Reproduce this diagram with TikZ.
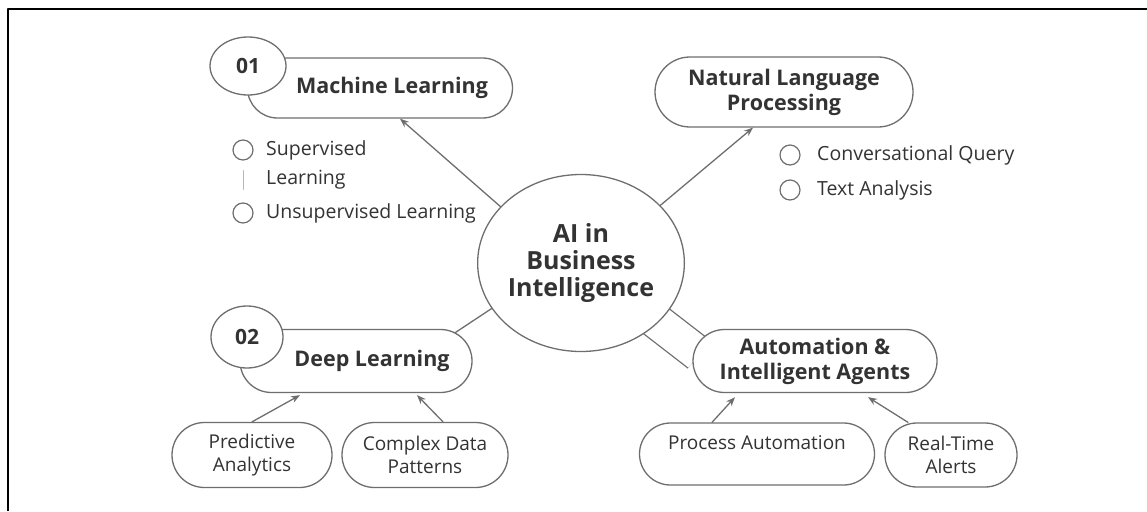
\documentclass[tikz,border=0pt]{standalone}
\usepackage{fontspec}
\setmainfont{Open Sans}
\usetikzlibrary{shapes.geometric,shapes.misc,arrows.meta,backgrounds}
\definecolor{edge}{HTML}{6E6E6E}
\definecolor{ink}{HTML}{333333}
\begin{document}
\begin{tikzpicture}[x=1pt,y=-1pt,line join=round,line cap=round,
	pill/.style={rounded rectangle,draw=edge,line width=1.3pt,fill=white,text=ink,inner sep=0pt,align=center},
	head/.style={pill,font=\fontsize{21.5}{25}\selectfont\bfseries},
	leaf/.style={pill,font=\fontsize{19}{23}\selectfont},
	tag/.style={ellipse,draw=edge,line width=1.3pt,fill=white,text=ink,inner sep=0pt,font=\fontsize{21}{24}\selectfont\bfseries},
	hub/.style={ellipse,draw=edge,line width=1.3pt,fill=white,text=ink,inner sep=0pt,align=center,minimum width=198pt,minimum height=177pt,font=\fontsize{25}{27}\selectfont\bfseries},
	dot/.style={circle,draw=edge,line width=1.2pt,minimum size=20pt,inner sep=0pt},
	item/.style={anchor=west,inner sep=0pt,text=ink,font=\fontsize{19.5}{22}\selectfont},
	link/.style={draw=edge,line width=1.3pt,-{Stealth[length=9pt,width=7pt]}},
	plain/.style={draw=edge,line width=1.3pt},
	duo/.style={draw=edge,line width=1.3pt,double=white,double distance=34pt,line cap=butt,shorten >=-6pt}]
	\useasboundingbox (0,0) rectangle (1147,511);
	% frame
	\draw[line width=2.5pt,line cap=butt] (8,511) -- (8,9) -- (1147,9);
	% centre
	\node[hub] (hub) at (581,263) {AI in\\Business\\Intelligence};
	% machine learning
	\node[head,minimum width=265pt,minimum height=60pt] (ml) at (380,88) {\hspace*{24pt}Machine Learning};
	\node[tag,minimum width=76pt,minimum height=58pt] (t1) at (248,66) {01};
	\node[dot] (s1) at (243,150) {};
	\node[item] (s1t) at (266,150) {Supervised};
	\node[item] (s1u) at (266,180) {Learning};
	\node[dot] (s2) at (243,213) {};
	\node[item] (s2t) at (266,213) {Unsupervised Learning};
	\draw[draw=edge!50,line width=1pt] ([yshift=-10pt]s1.south) -- ([yshift=13pt]s2.north);
	% natural language
	\node[head,minimum width=258pt,minimum height=70pt] (nlp) at (784,92) {Natural Language\\Processing};
	\node[dot] (n1) at (790,155) {};
	\node[item] (n1t) at (817,155) {Conversational Query};
	\node[dot] (n2) at (790,190) {};
	\node[item] (n2t) at (817,190) {Text Analysis};
	% deep learning
	\node[head,minimum width=232pt,minimum height=63pt] (dl) at (356,361) {\hspace*{32pt}Deep Learning};
	\node[tag,minimum width=72pt,minimum height=62pt] (t2) at (247,337) {02};
	\node[leaf,minimum width=160pt,minimum height=65pt] (pa) at (252,455) {Predictive\\Analytics};
	\node[leaf,minimum width=166pt,minimum height=65pt] (cd) at (425,455) {Complex Data\\Patterns};
	% automation
	\node[head,minimum width=244pt,minimum height=63pt] (auto) at (815,361) {Automation \&\\Intelligent Agents};
	\node[leaf,minimum width=235pt,minimum height=62pt] (pr) at (757,454) {Process Automation\\\mbox{}};
	\node[leaf,minimum width=132pt,minimum height=64pt] (rt) at (951,455) {Real-Time\\Alerts};
	% links
	\begin{pgfonlayer}{background}
		\draw[duo] (hub.center) -- (auto.175);
	\end{pgfonlayer}
	\draw[link] (hub.145) -- ([xshift=20pt]ml.south);
	\draw[link] (hub.36) -- ([xshift=-31pt]nlp.south);
	\draw[plain] (hub.207) -- (dl.16);
	\draw[link] (pa.north) -- ([xshift=-56pt,yshift=-2pt]dl.south);
	\draw[link] ([xshift=18pt]cd.north) -- ([xshift=61pt,yshift=-2pt]dl.south);
	\draw[link] ([xshift=-45pt]pr.north) -- ([xshift=-80pt,yshift=-4pt]auto.south);
	\draw[link] ([xshift=-43pt]rt.north) -- ([xshift=53pt,yshift=-4pt]auto.south);
\end{tikzpicture}
\end{document}
